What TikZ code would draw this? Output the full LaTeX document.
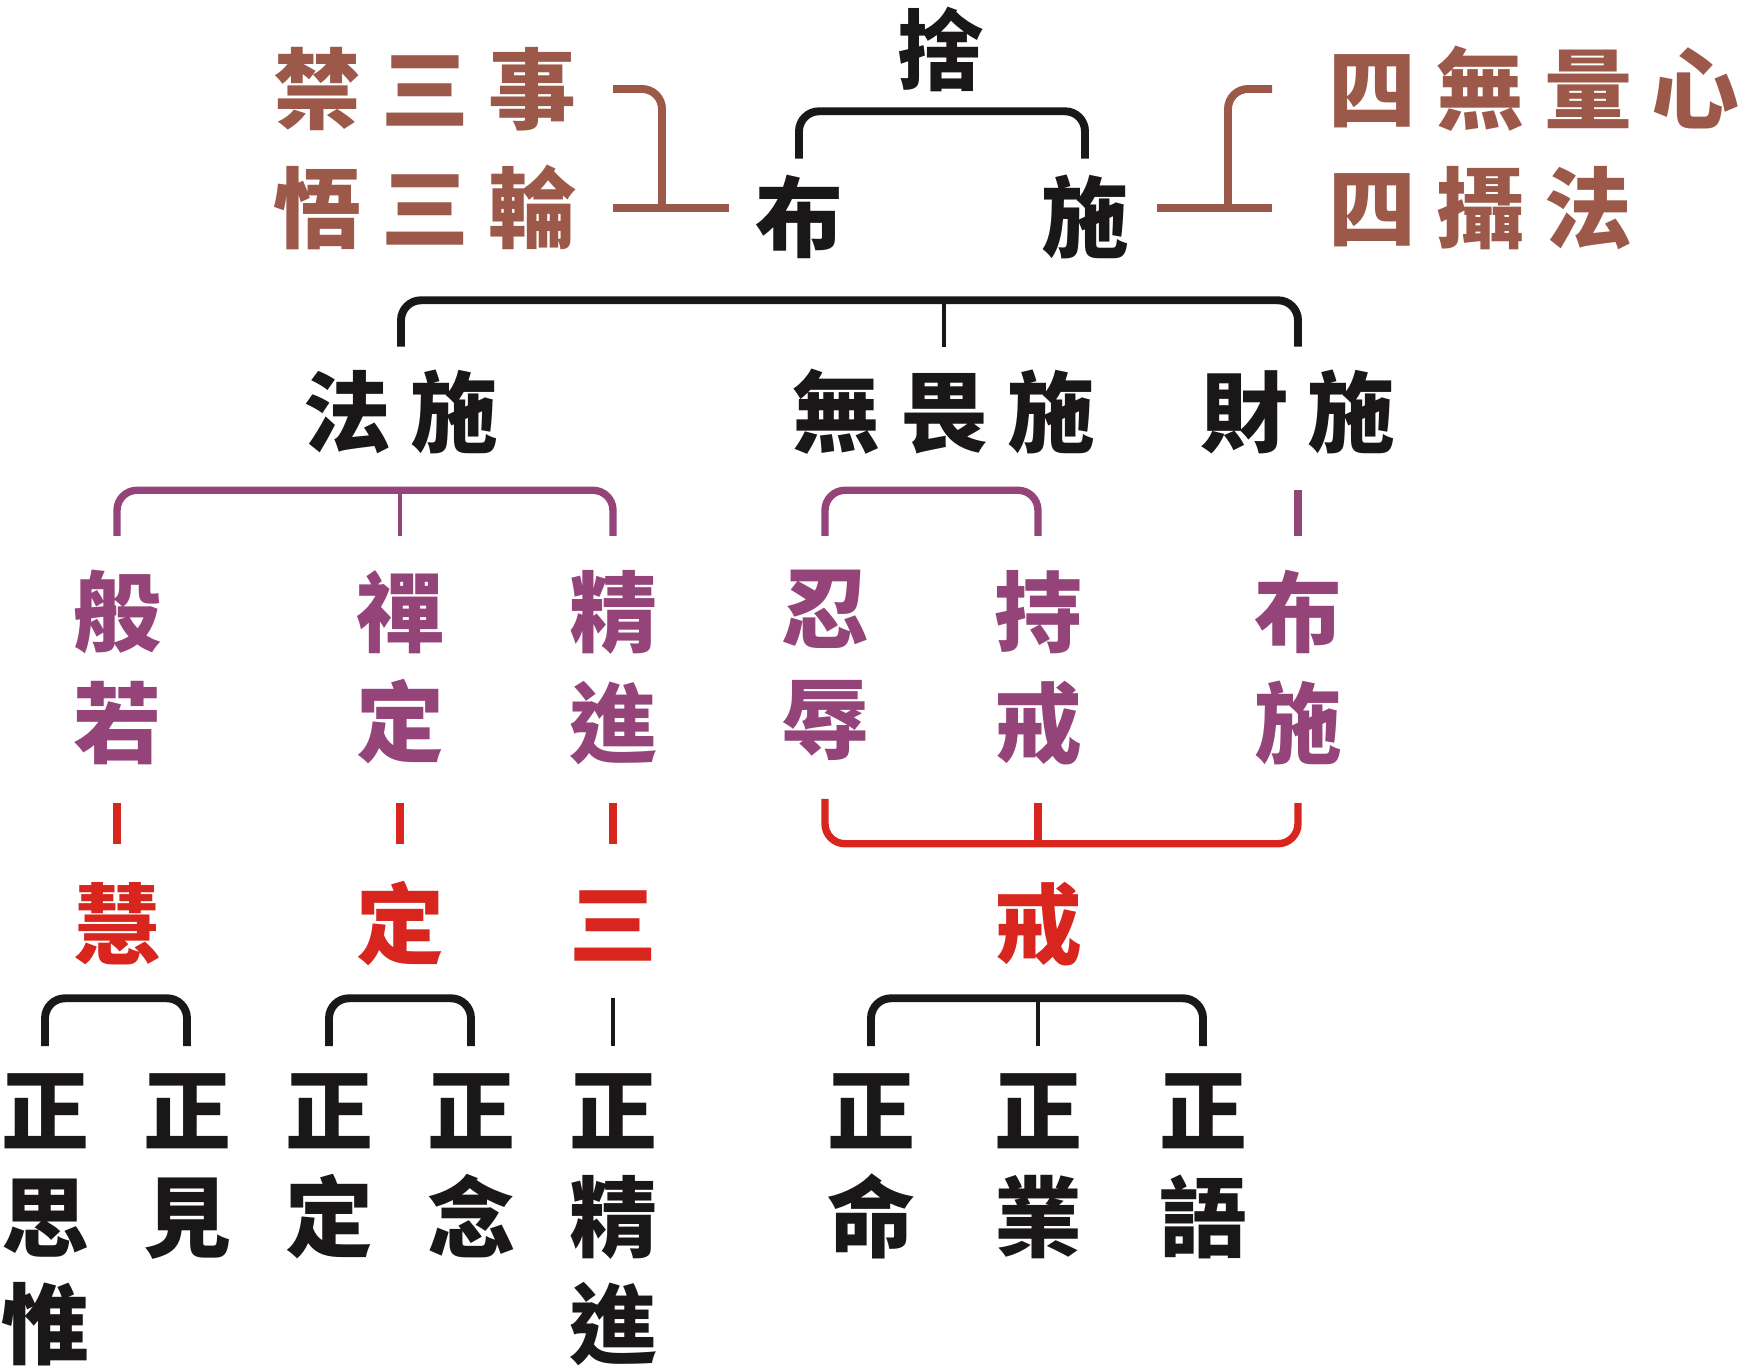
\documentclass[tikz,border=0pt]{standalone}
\usepackage{fontspec}
\newfontfamily\cjk{Noto Sans CJK TC}
\usepackage{tikz}
\usetikzlibrary{calc,positioning}
\definecolor{ink}{HTML}{1A1718}
\definecolor{brown}{HTML}{9C5848}
\definecolor{plum}{HTML}{954479}
\definecolor{vermil}{HTML}{D8261F}
\newcommand{\chgap}{\hspace{.4cm}}
\tikzset{word/.style={font=\cjk\bfseries\fontsize{50}{63}\selectfont,inner sep=0pt,text height=44pt,text depth=6pt},col/.style={font=\cjk\bfseries\fontsize{50}{63}\selectfont,inner sep=0pt,align=center,anchor=north},lowcol/.style={col,font=\cjk\bfseries\fontsize{50}{61}\selectfont},inkbar/.style={draw=ink,line width=4.5pt,rounded corners=.4cm},inkstem/.style={draw=ink,line width=2.8pt},brownbar/.style={draw=brown,line width=4.5pt,rounded corners=.4cm},plumbar/.style={draw=plum,line width=4.2pt,rounded corners=.4cm},plumstem/.style={draw=plum,line width=2.6pt},redbar/.style={draw=vermil,line width=4.2pt,rounded corners=.4cm}}

\begin{document}
\begin{tikzpicture}[x=0.2mm,y=0.2mm]
\useasboundingbox (0,0) rectangle (1745,-1366);
% top
\node[word,text=ink] (she) at (940,-50) {捨};
\node[word,text=ink] (bu) at (799,-217) {布};
\node[word,text=ink] (shi) at (1085,-217) {施};
\node[word,text=brown] (jin) at (425,-89) {禁\chgap 三\chgap 事};
\node[word,text=brown] (wu) at (425,-208) {悟\chgap 三\chgap 輪};
\node[word,text=brown,anchor=west] (liang) at (1328,-89) {四\chgap 無\chgap 量\chgap 心};
\node[word,text=brown,anchor=west] (sishe) at (1328,-208) {四\chgap 攝\chgap 法};
\coordinate (ljoin) at (662,-208);
\coordinate (rjoin) at (1228,-208);
\draw[inkbar] ([yshift=.28cm]bu.north) |- ([yshift=-.34cm]she.south) -| ([yshift=.28cm]shi.north);
\draw[brownbar] ([xshift=.72cm]wu.east) -- ([xshift=-.52cm]bu.west |- wu.east);
\draw[brownbar] ([xshift=.72cm]jin.east) -| (ljoin);
\draw[brownbar] ([xshift=.56cm]shi.east |- sishe.west) -- ([xshift=-1.12cm]sishe.west);
\draw[brownbar] ([xshift=-1.12cm]liang.west) -| (rjoin);
% three kinds of giving
\node[word,text=ink] (fashi) at (401,-412) {法\chgap 施};
\node[word,text=ink] (wuwei) at (944,-412) {無\chgap 畏\chgap 施};
\node[word,text=ink] (caishi) at (1298,-412) {財\chgap 施};
\draw[inkbar] ([yshift=.42cm]fashi.north) |- ([yshift=-.78cm]bu.south) -| ([yshift=.42cm]caishi.north);
\draw[inkstem] ([yshift=.42cm]wuwei.north) -- ([yshift=-.78cm]wuwei.north |- bu.south);
% six paramitas
\node[col,text=plum] (borou) at (117,-570) {般\\若};
\node[col,text=plum] (chanding) at (400,-570) {禪\\定};
\node[col,text=plum] (jingjin) at (613,-570) {精\\進};
\node[col,text=plum] (renru) at (825,-570) {忍\\辱};
\node[col,text=plum] (chijie) at (1038,-570) {持\\戒};
\node[col,text=plum] (bushi) at (1298,-570) {布\\施};
\draw[plumbar] ([yshift=.68cm]borou.north) |- ([yshift=-.68cm]fashi.south) -| ([yshift=.68cm]jingjin.north);
\draw[plumstem] ([yshift=.68cm]chanding.north) -- ([yshift=-.68cm]chanding.north |- fashi.south);
\draw[plumbar] ([yshift=.68cm]renru.north) |- ([yshift=-.68cm]wuwei.south) -| ([yshift=.68cm]chijie.north);
\draw[plumbar] ([yshift=.68cm]bushi.north) -- ([yshift=-.68cm]bushi.north |- caishi.south);
% three trainings
\node[word,text=vermil] (hui) at (117,-924) {慧};
\node[word,text=vermil] (ding) at (400,-924) {定};
\node[word,text=vermil] (san) at (613,-924) {三};
\node[word,text=vermil] (jie) at (1038,-924) {戒};
\draw[redbar] ([yshift=-.76cm]borou.south) -- ([yshift=.72cm]hui.north);
\draw[redbar] ([yshift=-.76cm]chanding.south) -- ([yshift=.72cm]ding.north);
\draw[redbar] ([yshift=-.76cm]jingjin.south) -- ([yshift=.72cm]san.north);
\draw[redbar] ([yshift=-.76cm]renru.south) |- ([yshift=.72cm]jie.north) -| ([yshift=-.76cm]bushi.south);
\draw[redbar] ([yshift=-.76cm]chijie.south) -- ([yshift=.72cm]jie.north);
% eightfold path
\node[lowcol,text=ink] (zsw) at (45,-1073) {正\\思\\惟};
\node[lowcol,text=ink] (zj) at (187,-1073) {正\\見};
\node[lowcol,text=ink] (zd) at (329,-1073) {正\\定};
\node[lowcol,text=ink] (zn) at (471,-1073) {正\\念};
\node[lowcol,text=ink] (zjj) at (613,-1073) {正\\精\\進};
\node[lowcol,text=ink] (zm) at (871,-1073) {正\\命};
\node[lowcol,text=ink] (zy) at (1038,-1073) {正\\業};
\node[lowcol,text=ink] (zyu) at (1203,-1073) {正\\語};
\draw[inkbar] ([yshift=.54cm]zsw.north) |- ([yshift=-.6cm]hui.south) -| ([yshift=.54cm]zj.north);
\draw[inkbar] ([yshift=.54cm]zd.north) |- ([yshift=-.6cm]ding.south) -| ([yshift=.54cm]zn.north);
\draw[inkstem] ([yshift=.54cm]zjj.north) -- ([yshift=-.6cm]san.south);
\draw[inkbar] ([yshift=.54cm]zm.north) |- ([yshift=-.6cm]jie.south) -| ([yshift=.54cm]zyu.north);
\draw[inkstem] ([yshift=.54cm]zy.north) -- ([yshift=-.6cm]jie.south);
\end{tikzpicture}
\end{document}
